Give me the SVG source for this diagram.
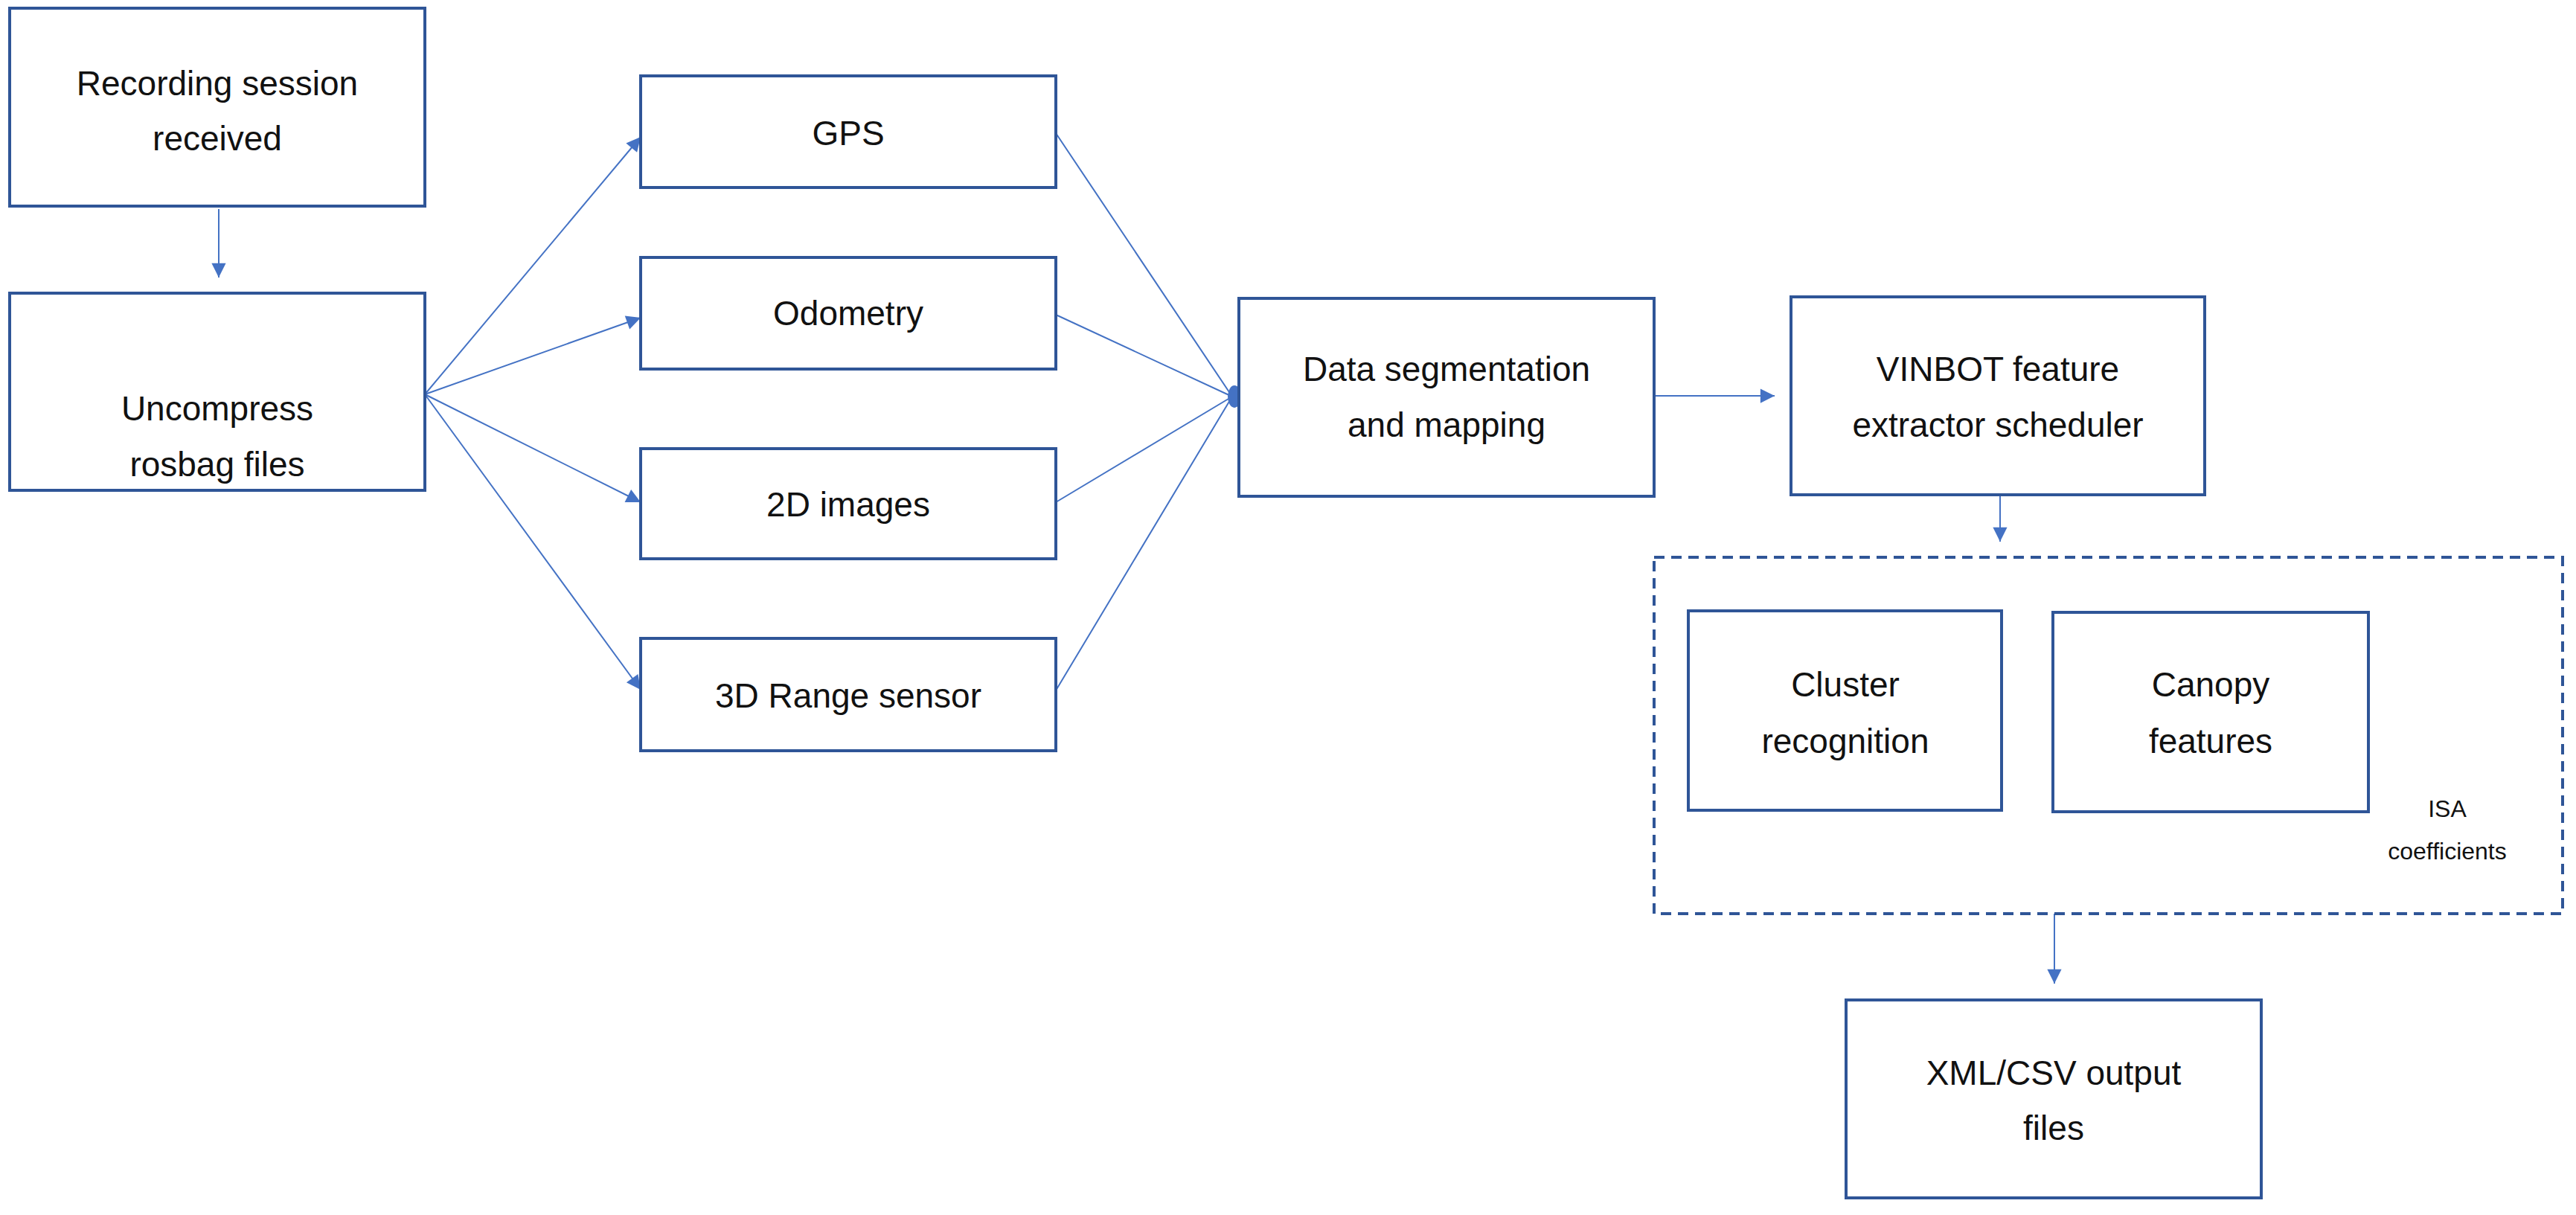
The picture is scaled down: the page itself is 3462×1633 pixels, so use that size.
<svg xmlns="http://www.w3.org/2000/svg" width="3462" height="1633" viewBox="0 0 3462 1633">
<defs>
<style>
.box{fill:#fff;stroke:#2F5597;stroke-width:4}
.t{font-family:"Liberation Sans",Arial,sans-serif;font-size:46px;fill:#111;text-anchor:middle}
.s{font-family:"Liberation Sans",Arial,sans-serif;font-size:32px;fill:#111;text-anchor:middle}
.c{stroke:#4472C4;stroke-width:2;fill:none}
</style>
<marker id="a" viewBox="0 0 10 10" refX="10" refY="5" markerWidth="8" markerHeight="8" markerUnits="userSpaceOnUse" orient="auto" overflow="visible"><path d="M0,0L10,5L0,10z" fill="#4472C4" transform="scale(2.4) translate(-5.8,-2.9)"/></marker>
</defs>
<rect width="3462" height="1633" fill="#fff"/>
<g id="connectors">
<path class="c" d="M294,281V373" marker-end="url(#a)"/>
<path class="c" d="M571,530L861,184" marker-end="url(#a)"/>
<path class="c" d="M571,530L861,427" marker-end="url(#a)"/>
<path class="c" d="M571,530L861,675" marker-end="url(#a)"/>
<path class="c" d="M571,530L861,927" marker-end="url(#a)"/>
<path class="c" d="M1419,179L1656,533M1419,423L1656,533M1419,675L1656,533M1419,928L1656,533"/>
<ellipse cx="1659" cy="533" rx="9" ry="15" fill="#4472C4"/>
<path class="c" d="M2223,532H2385" marker-end="url(#a)"/>
<path class="c" d="M2688,665V728" marker-end="url(#a)"/>
<path class="c" d="M2761,1228V1322" marker-end="url(#a)"/>
</g>
<g id="recording"><rect class="box" x="13" y="11" width="558" height="266"/><text class="t" x="292" y="128">Recording session</text><text class="t" x="292" y="202">received</text></g>
<g id="uncompress"><rect class="box" x="13" y="394" width="558" height="265"/><text class="t" x="292" y="565">Uncompress</text><text class="t" x="292" y="640">rosbag files</text></g>
<g id="gps"><rect class="box" x="861" y="102" width="558" height="150"/><text class="t" x="1140" y="195">GPS</text></g>
<g id="odometry"><rect class="box" x="861" y="346" width="558" height="150"/><text class="t" x="1140" y="437">Odometry</text></g>
<g id="images2d"><rect class="box" x="861" y="603" width="558" height="148"/><text class="t" x="1140" y="694">2D images</text></g>
<g id="range3d"><rect class="box" x="861" y="858" width="558" height="151"/><text class="t" x="1140" y="951">3D Range sensor</text></g>
<g id="dataseg"><rect class="box" x="1665" y="401" width="558" height="266"/><text class="t" x="1944" y="512">Data segmentation</text><text class="t" x="1944" y="587">and mapping</text></g>
<g id="vinbot"><rect class="box" x="2407" y="399" width="556" height="266"/><text class="t" x="2685" y="512">VINBOT feature</text><text class="t" x="2685" y="587">extractor scheduler</text></g>
<g id="group"><rect x="2223" y="749" width="1221" height="479" fill="none" stroke="#2F5597" stroke-width="4" stroke-dasharray="14,9"/><text class="s" x="3289" y="1098">ISA</text><text class="s" x="3289" y="1155">coefficients</text></g>
<g id="cluster"><rect class="box" x="2269" y="821" width="421" height="268"/><text class="t" x="2480" y="936">Cluster</text><text class="t" x="2480" y="1012">recognition</text></g>
<g id="canopy"><rect class="box" x="2759" y="823" width="424" height="268"/><text class="t" x="2971" y="936">Canopy</text><text class="t" x="2971" y="1012">features</text></g>
<g id="xml"><rect class="box" x="2481" y="1344" width="558" height="266"/><text class="t" x="2760" y="1458">XML/CSV output</text><text class="t" x="2760" y="1532">files</text></g>
</svg>
